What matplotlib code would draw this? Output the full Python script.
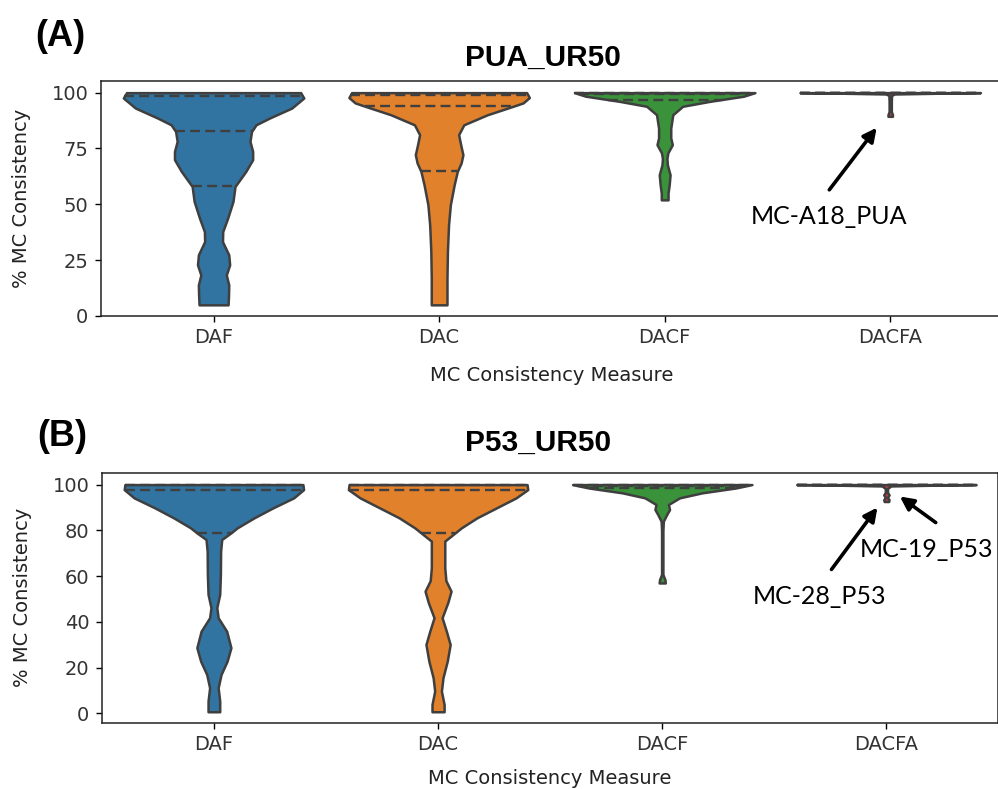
import numpy as np
import matplotlib
matplotlib.use("Agg")
import matplotlib.pyplot as plt

CATS = ["DAF", "DAC", "DACF", "DACFA"]
COLORS = ["#3274A1", "#E1812C", "#3A923A", "#C03D3E"]
EDGE = "#3f3f3f"

# --- (A) PUA_UR50: violin outlines (y, relative half-width) ---
PUA_DAF_Y = [5, 9.4, 13.9, 18.4, 22.9, 27.4, 33.3, 37.8, 43.8, 51.3, 58, 64.7, 70, 73.7, 78.2, 82.6, 85.6, 88.6, 93.1, 97.6, 100]
PUA_DAF_W = [0.065, 0.067, 0.068, 0.057, 0.072, 0.068, 0.04, 0.041, 0.063, 0.087, 0.096, 0.144, 0.175, 0.175, 0.163, 0.17, 0.19, 0.25, 0.35, 0.404, 0.39]
PUA_DAC_Y = [5, 7.9, 16.9, 28.9, 40.8, 49.8, 58.7, 64.7, 68.5, 72.2, 76.7, 81.2, 85.6, 90.1, 93.9, 95.4, 97.8, 100]
PUA_DAC_W = [0.035, 0.035, 0.035, 0.037, 0.042, 0.05, 0.067, 0.081, 0.098, 0.106, 0.096, 0.087, 0.11, 0.215, 0.33, 0.374, 0.402, 0.39]
PUA_DACF_Y = [52, 55, 58.7, 63.2, 67.7, 70.5, 73, 76.7, 79.7, 84.1, 90.1, 93.9, 96.1, 98.4, 100]
PUA_DACF_W = [0.015, 0.015, 0.02, 0.024, 0.012, 0.01, 0.014, 0.034, 0.027, 0.027, 0.036, 0.08, 0.2, 0.35, 0.4]
PUA_DACFA_Y = [89.4, 90.2, 91.5, 96, 98.8, 99.4, 99.8, 100]
PUA_DACFA_W = [0.01, 0.01, 0.005, 0.005, 0.006, 0.02, 0.25, 0.405]
PUA_QUARTILES = [[58, 82.8, 98.4], [64.7, 93.9, 99.1], [96.9, 99.4, 100], [100, 100, 100]]

# --- (B) P53_UR50 ---
P53_DAF_Y = [0.7, 5.4, 11.2, 17, 22.8, 28.7, 35.9, 41.8, 46.2, 52, 60.7, 70.9, 76, 78.9, 81.1, 85.5, 89.8, 94.2, 97.8, 100]
P53_DAF_W = [0.026, 0.026, 0.019, 0.032, 0.059, 0.076, 0.057, 0.019, 0.013, 0.026, 0.029, 0.03, 0.035, 0.076, 0.104, 0.18, 0.263, 0.356, 0.4, 0.397]
P53_DAC_Y = [0.7, 3.9, 9.7, 15.6, 22.8, 30.1, 35.9, 41.8, 48.3, 53.4, 58, 63.6, 75.3, 78.9, 81.1, 85.5, 89.8, 94.2, 97.8, 100]
P53_DAC_W = [0.027, 0.027, 0.015, 0.022, 0.041, 0.054, 0.037, 0.018, 0.043, 0.058, 0.035, 0.03, 0.03, 0.076, 0.104, 0.174, 0.26, 0.348, 0.4, 0.397]
P53_DACF_Y = [57, 58.5, 60.7, 70, 80, 84, 86.9, 89.1, 91.3, 94.2, 96.4, 98.5, 100]
P53_DACF_W = [0.014, 0.012, 0.003, 0.003, 0.003, 0.005, 0.02, 0.033, 0.028, 0.078, 0.18, 0.33, 0.404]
P53_DACFA_Y = [92.6, 93.4, 94.4, 95.5, 96.6, 98.3, 99.4, 99.8, 100]
P53_DACFA_W = [0.01, 0.012, 0.005, 0.012, 0.005, 0.005, 0.02, 0.25, 0.404]
P53_QUARTILES = [[79, 97.5, 99.7], [79, 97.5, 99.7], [98.5, 99.5, 100], [100, 100, 100]]


def draw_panel(ax, ys, ws, quarts):
    stats = []
    for y, w in zip(ys, ws):
        y = np.asarray(y, float)
        stats.append(dict(coords=y, vals=np.asarray(w, float), mean=y.mean(),
                          median=np.median(y), min=y.min(), max=y.max()))
    parts = ax.violin(stats, positions=np.arange(len(CATS)), widths=0.8,
                      showmeans=False, showextrema=False, showmedians=False)
    for body, c in zip(parts["bodies"], COLORS):
        body.set_facecolor(c); body.set_edgecolor(EDGE)
        body.set_linewidth(1.8); body.set_alpha(1); body.set_joinstyle("round")
    for i, (y, w, q) in enumerate(zip(ys, ws, quarts)):
        scale = 0.4 / max(w)
        for qv in q:
            hw = np.interp(qv, y, w) * scale
            ax.plot([i - hw, i + hw], [qv, qv], color=EDGE, lw=1.7, dashes=(4.2, 2.2))
    ax.set_xticks(np.arange(len(CATS)), CATS)
    ax.set_xlim(-0.5, 3.5)
    ax.tick_params(labelsize=14, labelcolor="#333333", length=4, width=1, pad=5)
    for s in ax.spines.values():
        s.set_linewidth(1.1); s.set_color("#222222")
    ax.set_ylabel("% MC Consistency", fontsize=14, color="#222222", va="center")
    ax.yaxis.set_label_coords(-0.088, 0.5)
    ax.set_xlabel("MC Consistency Measure", fontsize=14, color="#222222")


fig = plt.figure(figsize=(9.98, 7.89), dpi=100)

axA = fig.add_axes([0.101, 0.5995, 0.904, 0.2978])
draw_panel(axA, [PUA_DAF_Y, PUA_DAC_Y, PUA_DACF_Y, PUA_DACFA_Y],
           [PUA_DAF_W, PUA_DAC_W, PUA_DACF_W, PUA_DACFA_W], PUA_QUARTILES)
axA.set_ylim(0.25, 105.2)
axA.set_yticks([0, 25, 50, 75, 100])
axA.xaxis.set_label_coords(0.5, -0.255)
axA.xaxis.label.set_va("center")

axB = fig.add_axes([0.102, 0.0837, 0.8985, 0.3172])
draw_panel(axB, [P53_DAF_Y, P53_DAC_Y, P53_DACF_Y, P53_DACFA_Y],
           [P53_DAF_W, P53_DAC_W, P53_DACF_W, P53_DACFA_W], P53_QUARTILES)
axB.set_ylim(-4.2, 105.2)
axB.set_yticks([0, 20, 40, 60, 80, 100])
axB.xaxis.set_label_coords(0.5, -0.22)
axB.xaxis.label.set_va("center")

# titles and panel letters
fig.text(543 / 998, 1 - 57.5 / 789, "PUA_UR50", family="Liberation Sans", weight="bold",
         fontsize=21.5, ha="center", va="center")
fig.text(538 / 998, 1 - 443 / 789, "P53_UR50", family="Liberation Sans", weight="bold",
         fontsize=21.5, ha="center", va="center")
fig.text(60 / 998, 1 - 37 / 789, "(A)", family="Liberation Sans", weight="bold",
         fontsize=26, ha="center", va="center")
fig.text(62 / 998, 1 - 437 / 789, "(B)", family="Liberation Sans", weight="bold",
         fontsize=26, ha="center", va="center")

# callouts
arrow = dict(arrowstyle="-|>", color="black", lw=2.6, mutation_scale=20, shrinkA=0, shrinkB=0)
axA.annotate("", xy=(2.94, 84.3), xytext=(2.73, 56.5), arrowprops=arrow)
axA.text(2.73, 44.4, "MC-A18_PUA", family="Lato", fontsize=18, ha="center", va="center")

axB.annotate("", xy=(2.96, 90), xytext=(2.755, 62.9), arrowprops=arrow)
axB.text(2.70, 51.1, "MC-28_P53", family="Lato", fontsize=18, ha="center", va="center")
axB.annotate("", xy=(3.06, 94.8), xytext=(3.22, 83.4), arrowprops=arrow)
axB.text(3.18, 71.6, "MC-19_P53", family="Lato", fontsize=18, ha="center", va="center")

fig.savefig("out.png", dpi=100)
